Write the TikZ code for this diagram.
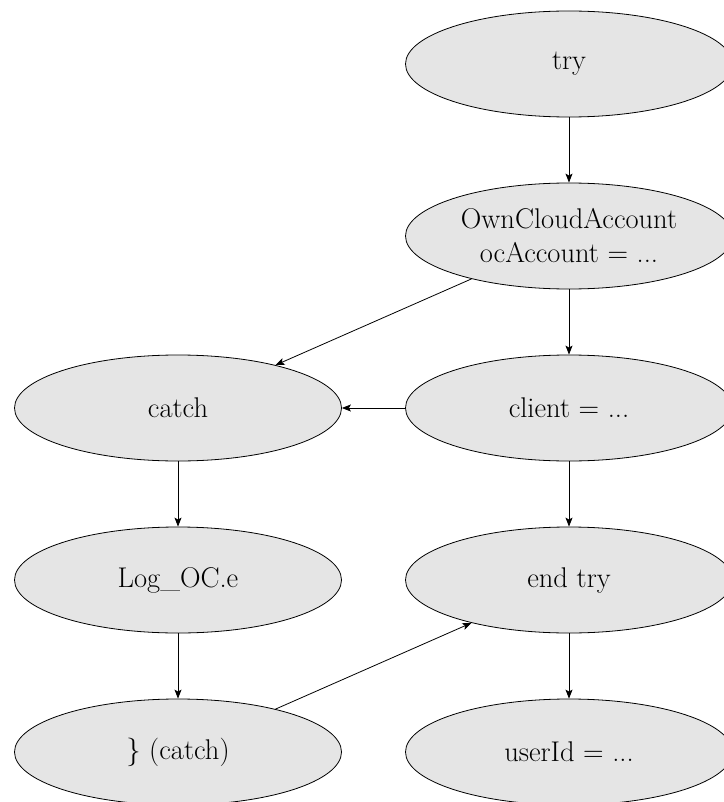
\documentclass[tikz,border=0pt]{standalone}
\usetikzlibrary{shapes.geometric,arrows.meta}
\begin{document}
\begin{tikzpicture}[x=1pt,y=-1pt,
  blob/.style={ellipse, draw, fill=black!10, minimum width=327pt, minimum height=106pt,
    inner sep=0pt, font=\fontsize{28.5}{34}\selectfont, align=center, line width=0.8pt},
  arr/.style={-{Stealth[length=9pt,width=7pt,inset=2pt]}, line width=0.8pt}]
\useasboundingbox (0,0) rectangle (723,802);
\node[blob] (try) at (569,64) {try};
\node[blob] (own) at (569,236) {OwnCloudAccount\\ocAccount = ...};
\node[blob] (catch) at (178,408) {catch};
\node[blob] (client) at (569,408) {client = ...};
\node[blob] (log) at (178,580) {Log\_OC.e};
\node[blob] (endtry) at (569,580) {end try};
\node[blob] (ecatch) at (178,752) {\} (catch)};
\node[blob] (user) at (569,752) {userId = ...};
\draw[arr] (try) -- (own);
\draw[arr] (own) -- (catch);
\draw[arr] (own) -- (client);
\draw[arr] (client) -- (catch);
\draw[arr] (client) -- (endtry);
\draw[arr] (catch) -- (log);
\draw[arr] (log) -- (ecatch);
\draw[arr] (ecatch) -- (endtry);
\draw[arr] (endtry) -- (user);
\end{tikzpicture}
\end{document}
